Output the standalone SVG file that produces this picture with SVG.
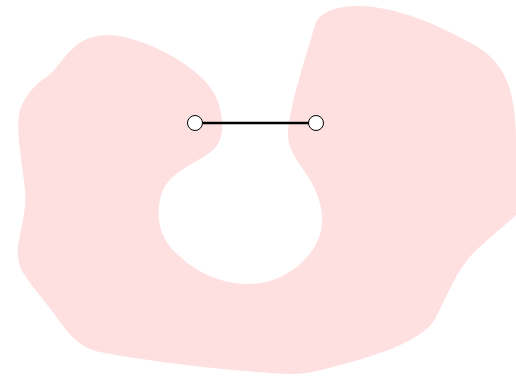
<svg xmlns="http://www.w3.org/2000/svg" width="516" height="378" viewBox="0 0 516 378">
<style>
.region{fill:#ffe0e1;stroke:none}
.edge{stroke:#000;stroke-width:2.5;fill:none}
.node{fill:#fff;stroke:#000;stroke-width:1}
</style>
<rect width="516" height="378" fill="#fff"/>
<g id="region">
<path class="region" d="M107,35 C140,35 200,65 215,95 C225,115 225,140 213,150 C200,162 172,170 163,190 C155,210 157,235 175,252 C195,272 225,288 260,283 C285,280 310,260 318,240 C326,222 322,200 310,180 C300,163 288,152 288,135 C288,110 305,60 315,25 C320,10 340,6 358,6 C395,6 440,25 478,47 C495,58 505,72 510,90 C514,105 516,120 516,140 L516,215 C500,230 480,245 468,259 C455,275 445,300 435,319 C420,345 360,360 325,369 C310,373 300,374 291,374 C240,372 150,362 100,352 C80,348 70,335 60,322 C45,300 25,280 20,266 C12,245 28,220 25,190 C22,160 15,130 20,110 C25,95 35,85 45,78 C60,70 70,35 107,35 Z"/>
</g>
<g id="connectors">
<line class="edge" x1="195" y1="123" x2="316" y2="123"/>
</g>
<g id="node-a"><circle class="node" cx="195" cy="123" r="7.5"/></g>
<g id="node-b"><circle class="node" cx="316" cy="123" r="7.5"/></g>
</svg>
